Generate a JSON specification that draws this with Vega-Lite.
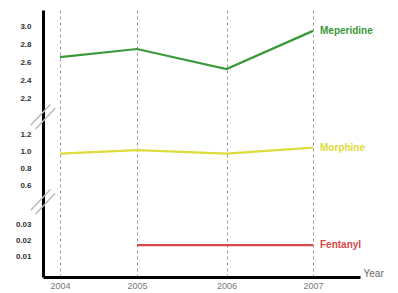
{
  "$schema": "https://vega.github.io/schema/vega-lite/v6.json",
  "width": 317,
  "height": 267,
  "autosize": "none",
  "padding": {"left": 43, "top": 10, "right": 38, "bottom": 16},
  "config": {"view": {"stroke": null}, "font": "Liberation Sans"},
  "data": {"values": [
    {"drug": "Meperidine", "year": 2004, "value": 2.66},
    {"drug": "Meperidine", "year": 2005, "value": 2.75},
    {"drug": "Meperidine", "year": 2006, "value": 2.53},
    {"drug": "Meperidine", "year": 2007, "value": 2.95},
    {"drug": "Morphine", "year": 2004, "value": 0.97},
    {"drug": "Morphine", "year": 2005, "value": 1.01},
    {"drug": "Morphine", "year": 2006, "value": 0.97},
    {"drug": "Morphine", "year": 2007, "value": 1.04},
    {"drug": "Fentanyl", "year": 2005, "value": 0.017},
    {"drug": "Fentanyl", "year": 2006, "value": 0.017},
    {"drug": "Fentanyl", "year": 2007, "value": 0.017}
  ]},
  "encoding": {
    "x": {
      "field": "year", "type": "quantitative",
      "scale": {"domain": [2003.8, 2004, 2005, 2006, 2007, 2007.557], "range": [0, 17, 94, 183.5, 270, 317], "nice": false, "zero": false},
      "axis": {
        "values": [2004, 2005, 2006, 2007], "format": "d", "ticks": false,
        "domainColor": "black", "domainWidth": 3,
        "grid": true, "gridDash": [3, 3], "gridColor": "#999",
        "labelFontSize": 9, "labelColor": "#777", "labelPadding": 4,
        "title": "Year", "titleX": 320, "titleY": -4, "titleAlign": "left",
        "titleBaseline": "middle", "titleFontWeight": "normal", "titleFontSize": 10, "titleColor": "#666"
      }
    },
    "y": {
      "field": "value", "type": "quantitative",
      "scale": {"domain": [-0.003, 0.039, 0.5, 1.3, 2.1, 3.18], "range": [267, 200, 183.5, 115.5, 98, 0], "nice": false, "zero": false},
      "axis": {
        "values": [0.01, 0.02, 0.03, 0.6, 0.8, 1.0, 1.2, 2.2, 2.4, 2.6, 2.8, 3.0],
        "labelExpr": "datum.value < 0.1 ? format(datum.value, '.2f') : format(datum.value, '.1f')",
        "ticks": false, "grid": false, "title": null,
        "domainColor": "black", "domainWidth": 3,
        "labelPadding": 12, "labelFontSize": 8, "labelFontWeight": "bold", "labelColor": "#333"
      }
    }
  },
  "layer": [
    {
      "mark": {"type": "line", "strokeWidth": 2.2},
      "encoding": {
        "color": {"field": "drug", "type": "nominal",
          "scale": {"domain": ["Meperidine", "Morphine", "Fentanyl"], "range": ["#3a9a3a", "#dcdc3c", "#d84848"]},
          "legend": null}
      }
    },
    {
      "transform": [{"filter": "datum.year == 2007"}],
      "mark": {"type": "text", "align": "left", "dx": 7, "fontWeight": "bold", "fontSize": 10},
      "encoding": {
        "text": {"field": "drug", "type": "nominal"},
        "color": {"field": "drug", "type": "nominal",
          "scale": {"domain": ["Meperidine", "Morphine", "Fentanyl"], "range": ["#2f8f2f", "#d6d63a", "#d43c3c"]},
          "legend": null}
      }
    },
    {
      "data": {"values": [{"year": 2003.8, "value": 1.7}, {"year": 2003.8, "value": 0.27}]},
      "mark": {"type": "point", "shape": "M-1,0.7L0.6,-1M-0.6,1L1,-0.7", "stroke": "#bbb", "strokeWidth": 1.5, "size": 600, "filled": false, "opacity": 1}
    }
  ]
}
